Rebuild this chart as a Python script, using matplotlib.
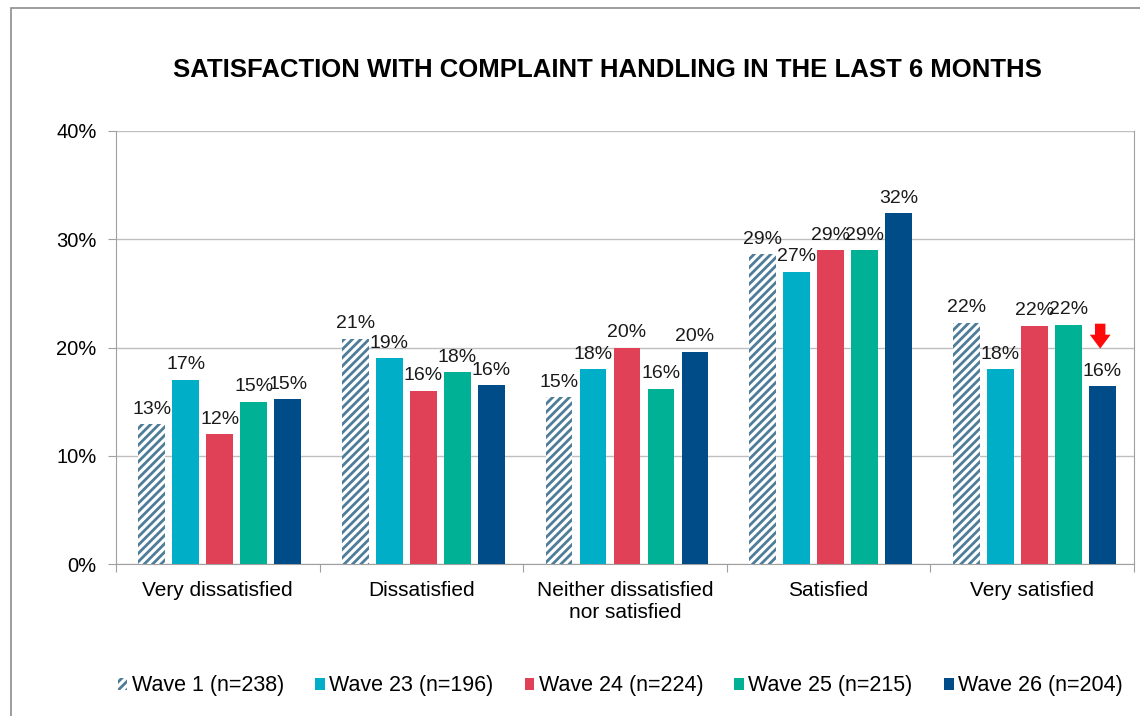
import matplotlib
matplotlib.use("Agg")
import matplotlib.pyplot as plt
from matplotlib.patches import Rectangle
import numpy as np

plt.rcParams['font.family'] = ['Liberation Sans', 'DejaVu Sans']
plt.rcParams['hatch.linewidth'] = 2.0

categories = ["Very dissatisfied", "Dissatisfied", "Neither dissatisfied\nnor satisfied",
              "Satisfied", "Very satisfied"]
series_names = ["Wave 1 (n=238)", "Wave 23 (n=196)", "Wave 24 (n=224)",
                "Wave 25 (n=215)", "Wave 26 (n=204)"]
wave1 = [12.9, 20.8, 15.4, 28.6, 22.3]
wave23 = [17.0, 19.0, 18.0, 27.0, 18.0]
wave24 = [12.0, 16.0, 20.0, 29.0, 22.0]
wave25 = [15.0, 17.7, 16.2, 29.0, 22.1]
wave26 = [15.2, 16.5, 19.6, 32.4, 16.4]
yticks = [0, 10, 20, 30, 40]

series = [wave1, wave23, wave24, wave25, wave26]
colors = ["white", "#00AEC7", "#E04157", "#00B195", "#004C89"]

fig = plt.figure(figsize=(11.4, 7.16), dpi=100)
ax = fig.add_axes([116/1140, 1-564/716, (1134-116)/1140, (564-131)/716])

x = np.arange(len(categories))
pitch = 0.167
width = 0.132
for i, (vals, col) in enumerate(zip(series, colors)):
    pos = x + (i - 2) * pitch + 0.01
    if i == 0:
        ax.bar(pos, vals, width, color="white", edgecolor="#4E7D99",
               hatch="////", linewidth=0, label=series_names[i], zorder=3)
    else:
        ax.bar(pos, vals, width, color=col, label=series_names[i], zorder=3)
    for p, v in zip(pos, vals):
        ax.text(p, v + 0.6, f"{round(v):.0f}%", ha="center", va="bottom",
                fontsize=14, color="#1a1a1a", zorder=5)

# red arrow marking decline for Wave 26, Very satisfied
ax_x = 4 + 2 * pitch
ax.annotate("", xy=(ax_x, wave26[4] + 3.5), xytext=(ax_x, wave26[4] + 5.8),
            arrowprops=dict(arrowstyle="simple,head_width=1.5,head_length=1.0,tail_width=0.75",
                            color="#FF0A0A", lw=0, shrinkA=0, shrinkB=0), zorder=6)

ax.set_xlim(-0.5, 4.5)
ax.set_ylim(0, 40)
ax.set_yticks(yticks)
ax.set_yticklabels([f"{t}%" for t in yticks], fontsize=14.5)
ax.yaxis.grid(True, color="#BFBFBF", linewidth=1, zorder=0)
ax.set_axisbelow(True)

ax.set_xticks(np.arange(-0.5, 5.0, 1.0))
ax.set_xticklabels([])
ax.set_xticks(x, minor=True)
ax.set_xticklabels(categories, minor=True, fontsize=15)
ax.tick_params(axis="x", which="minor", length=0, pad=12)
ax.tick_params(axis="x", which="major", length=6, color="#A0A0A0")
ax.tick_params(axis="y", length=6, color="#A0A0A0", pad=8)

for s in ["left", "bottom", "right"]:
    ax.spines[s].set_color("#A0A0A0")
ax.spines["top"].set_visible(False)

fig.text(0.533, 1 - 70/716, "SATISFACTION WITH COMPLAINT HANDLING IN THE LAST 6 MONTHS",
         ha="center", va="center", fontsize=18.5, fontweight="bold")

leg = fig.legend(loc="center", bbox_to_anchor=(0.544, 1 - 686/716), ncol=5, frameon=False,
                 fontsize=15.5, handlelength=0.45, handleheight=0.45, handletextpad=0.2,
                 columnspacing=1.45)

fig.patches.append(Rectangle((11/1140, -0.05), 1.2, 1 - 8/716 + 0.05, transform=fig.transFigure,
                             fill=False, edgecolor="#8C8C8C", linewidth=1.2))

fig.savefig("out.png", dpi=100)
